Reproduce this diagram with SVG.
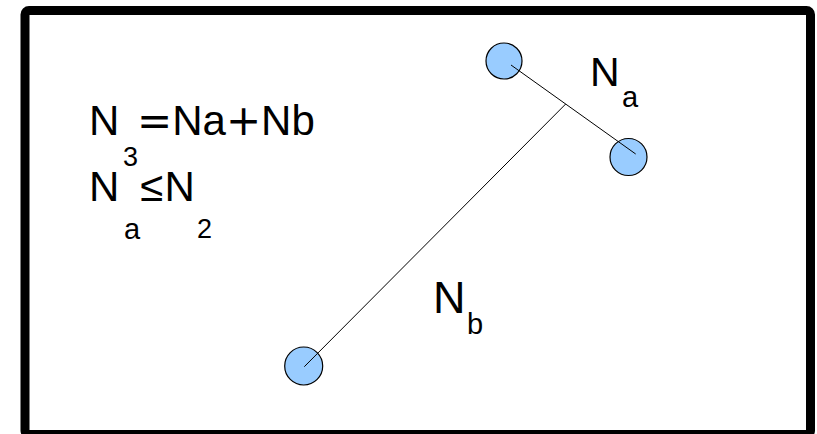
<svg xmlns="http://www.w3.org/2000/svg" width="817" height="434" viewBox="0 0 817 434">
<style>
.t{font-family:"Liberation Sans",Arial,sans-serif;fill:#000}
.s{font-family:"DejaVu Sans",sans-serif}
.node{fill:#99ccff;stroke:#000;stroke-width:1.2}
.edge{stroke:#000;stroke-width:1;fill:none}
</style>
<rect x="0" y="0" width="817" height="434" fill="#fff"/>
<rect id="frame" x="25" y="10.5" width="785.5" height="424" rx="4" fill="none" stroke="#000" stroke-width="9"/>
<g id="node1"><circle class="node" cx="504" cy="61" r="18"/></g>
<g id="node2"><circle class="node" cx="628.5" cy="157" r="18.5"/></g>
<g id="node3"><circle class="node" cx="303.7" cy="366" r="19"/></g>
<g id="connectors">
<line class="edge" x1="511" y1="65" x2="635.7" y2="154"/>
<line class="edge" x1="565.7" y1="104" x2="304.3" y2="366.7"/>
</g>
<g id="labels">
<text class="t" font-size="42"><tspan x="89" y="135">N</tspan><tspan x="123" y="166" font-size="27">3</tspan><tspan class="s" x="137" y="135">=</tspan><tspan>Na</tspan><tspan class="s">+</tspan><tspan>Nb</tspan></text>
<text class="t" font-size="42"><tspan x="89" y="201">N</tspan><tspan x="124" y="239" font-size="29">a</tspan><tspan x="140" y="201">≤</tspan><tspan x="164.5" y="201">N</tspan><tspan x="197" y="238" font-size="27">2</tspan></text>
<text class="t" font-size="41"><tspan x="590" y="86">N</tspan><tspan x="622" y="107" font-size="29">a</tspan></text>
<text class="t" font-size="45"><tspan x="433" y="313">N</tspan><tspan x="467" y="334" font-size="29">b</tspan></text>
</g>
</svg>
